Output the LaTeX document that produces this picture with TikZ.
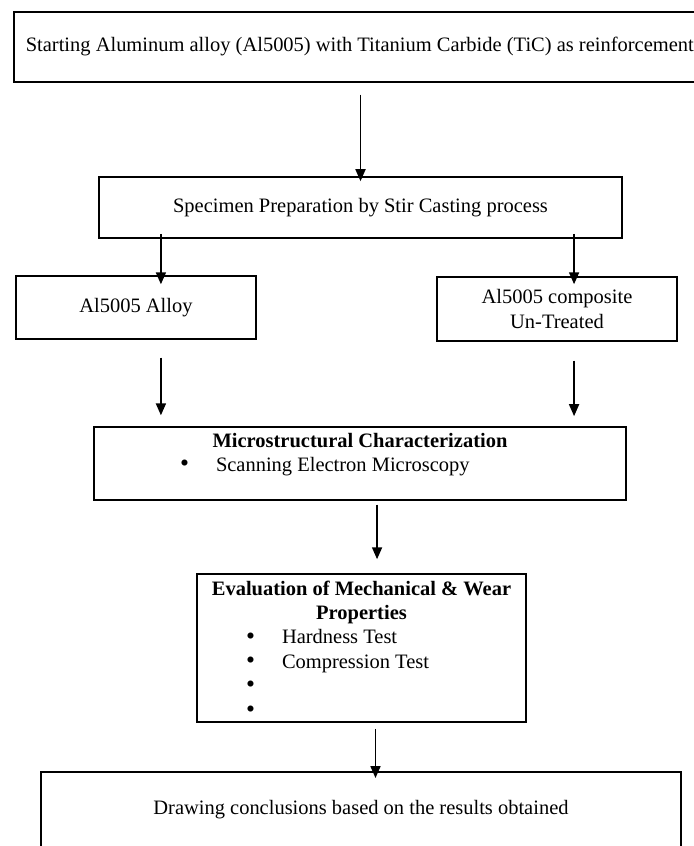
\documentclass[tikz,border=0pt]{standalone}
\usepackage{fontspec}
\setmainfont{Liberation Serif}
\usetikzlibrary{arrows.meta}
\newlength{\pxu}
\setlength{\pxu}{0.586pt}
\tikzset{
    boite/.style={draw, line width=1.6\pxu, inner sep=0pt, align=center, font=\fontsize{12}{14.2}\selectfont},
    panneau/.style={draw, line width=1.6\pxu, inner sep=0pt, font=\fontsize{12}{14.2}\selectfont},
    fleche/.style={-{Triangle[length=7pt,width=5.9pt]}, line width=0.9pt},
}
\newcommand{\lignepuce}[3]{\makebox[#1][l]{\hspace*{#2}\makebox[36\pxu][l]{\raisebox{-0.3pt}{\fontsize{15}{14}\selectfont\textbullet}}#3}}
\begin{document}
\begin{tikzpicture}[x=\pxu, y=-\pxu]
        % Cadre de l'image
        \useasboundingbox (0,0) rectangle (694,846);
        \clip (0,0) rectangle (694,846);

        % Boites du schema
        \node[boite, anchor=west, minimum height=70\pxu, inner xsep=12\pxu] (depart) at (13,47) {Starting Aluminum alloy (Al5005) with Titanium Carbide (TiC) as reinforcement}; % Deborde a droite
        \node[boite, minimum width=523\pxu, minimum height=61\pxu] (prep) at (360.5,207.5) {Specimen Preparation by Stir Casting process};
        \node[boite, minimum width=240\pxu, minimum height=63\pxu] (alliage) at (136,307.5) {Al5005 Alloy};
        \node[boite, minimum width=240\pxu, minimum height=64\pxu] (composite) at (557,309) {Al5005 composite\\Un-Treated};
        \node[panneau] (micro) at (360,463.5) {\parbox[c][73\pxu][t]{532\pxu}{\centering\vspace*{6\pxu}\textbf{Microstructural Characterization}\\
            \lignepuce{532\pxu}{86\pxu}{Scanning Electron Microscopy}}};
        \node[panneau] (eval) at (361.5,648) {\parbox[c][148\pxu][t]{329\pxu}{\centering\vspace*{7\pxu}\textbf{Evaluation of Mechanical \& Wear}\\\textbf{Properties}\\
            \lignepuce{329\pxu}{49\pxu}{Hardness Test}\\
            \lignepuce{329\pxu}{49\pxu}{Compression Test}\\
            \lignepuce{329\pxu}{49\pxu}{}\\
            \lignepuce{329\pxu}{49\pxu}{}}};
        \node[panneau, anchor=north] (conclusion) at (361,771) {\parbox[c][130\pxu][t]{640\pxu}{\centering\vspace*{28\pxu}Drawing conclusions based on the results obtained}}; % Coupe en bas

        % Fleches entre les boites
        \draw[fleche, shorten <=7pt, shorten >=-2.9pt] (prep.north |- depart.south) -- (prep.north);
        \draw[fleche, shorten <=-2.9pt, shorten >=-5.3pt] ([xshift=14.6pt]alliage.north |- prep.south) -- ([xshift=14.6pt]alliage.north);
        \draw[fleche, shorten <=-2.9pt, shorten >=-4.7pt] ([xshift=10pt]composite.north |- prep.south) -- ([xshift=10pt]composite.north);
        \draw[fleche, shorten <=10.5pt, shorten >=6.4pt] ([xshift=14.6pt]alliage.south) -- ([xshift=14.6pt]alliage.south |- micro.north);
        \draw[fleche, shorten <=11.1pt, shorten >=5.9pt] ([xshift=10pt]composite.south) -- ([xshift=10pt]composite.south |- micro.north);
        \draw[fleche, shorten <=2.3pt, shorten >=8.2pt] ([xshift=10pt]micro.south) -- ([xshift=10pt]micro.south |- eval.north);
        \draw[fleche, shorten <=3.5pt, shorten >=-4.1pt] ([xshift=8.2pt]eval.south) -- ([xshift=8.2pt]eval.south |- conclusion.north);
    \end{tikzpicture}
\end{document}
